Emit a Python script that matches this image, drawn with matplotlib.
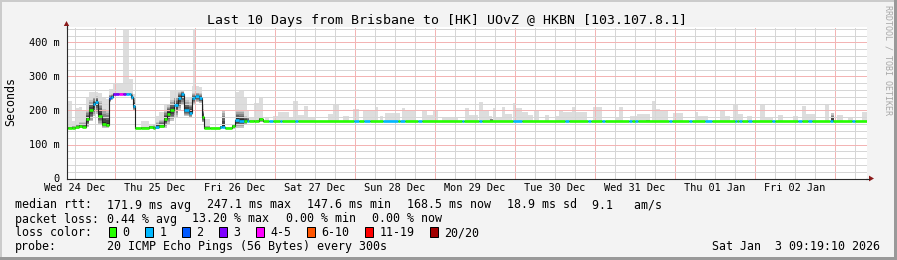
import matplotlib
matplotlib.use("Agg")
import matplotlib.pyplot as plt
from matplotlib.patches import Rectangle, Polygon

# ---------------- data ----------------
title = "Last 10 Days from Brisbane to [HK] UOvZ @ HKBN [103.107.8.1]"
day_labels = ["Wed 24 Dec", "Thu 25 Dec", "Fri 26 Dec", "Sat 27 Dec", "Sun 28 Dec",
              "Mon 29 Dec", "Tue 30 Dec", "Wed 31 Dec", "Thu 01 Jan", "Fri 02 Jan"]
label_hours = [12, 36, 60, 84, 108, 132, 156, 180, 204, 228]   # hours after Wed 24 Dec 00:00
x_start, x_end = 9.6, 249.6
y_ticks = [0, 100, 200, 300, 400]
y_tick_labels = ["0", "100 m", "200 m", "300 m", "400 m"]
y_max = 445

# active period: step segments (start hour, median ms, loss class, smoke core lo/hi, smoke max)
act_h = [9.6, 10.1, 11.1, 12.1, 13.4, 14.1, 15.4, 16.4, 17.4, 18.1, 19.1, 20.1, 21.4, 22.2, 22.9,
         23.4, 25.4, 26.4, 27.4, 28.4, 28.9, 29.4, 30.1, 32.0, 34.4, 35.4, 36.1, 37.4, 38.9, 39.6,
         40.7, 41.9, 42.9, 43.9, 44.9, 46.2, 47.2, 47.4, 48.0, 48.2, 49.2, 50.2, 50.7, 52.7, 55.7,
         56.2, 57.2, 59.2, 60.0, 61.2, 62.7, 63.7, 64.2, 65.7, 67.2]
act_med = [148, 148, 148, 151, 155, 151, 174, 200, 218, 224, 185, 159, 157, 236, 240,
           248, 248, 248, 248, 248, 240, 212, 148, 148, 151, 148, 152, 155, 174, 191,
           200, 215, 236, 248, 200, 193, 236, 236, 236, 242, 236, 180, 148, 148, 151,
           151, 148, 154, 172, 170, 169, 170, 169, 169, 174]
act_loss = [0, 0, 0, 0, 0, 0, 0, 0, 1, 1, 0, 0, 0, 2, 1,
            3, 4, 3, 1, 1, 1, 1, 0, 0, 0, 0, 1, 0, 0, 0,
            0, 1, 1, 1, 1, 1, 1, 1, 1, 1, 1, 0, 0, 0, 1,
            1, 0, 0, 1, 1, 0, 1, 0, 0, 0]
act_lo = [146, 146, 146, 147, 148, 148, 152, 168, 185, 190, 160, 150, 150, 226, 232,
          245, 245, 245, 245, 245, 232, 200, 146, 146, 147, 146, 146, 148, 150, 160,
          170, 180, 200, 215, 185, 180, 220, 220, 220, 225, 222, 165, 146, 146, 147,
          150, 146, 147, 150, 150, 160, 165, 167, 167, 165]
act_hi = [150, 152, 155, 160, 165, 165, 200, 230, 240, 242, 228, 205, 200, 246, 248,
          252, 252, 252, 252, 252, 250, 240, 150, 152, 155, 156, 165, 172, 200, 215,
          230, 240, 255, 256, 230, 225, 250, 250, 250, 252, 250, 205, 155, 150, 155,
          202, 150, 158, 200, 200, 185, 180, 171, 172, 180]
act_max = [150, 229, 170, 207, 210, 202, 239, 254, 254, 254, 250, 240, 235, 264, 264,
           278, 278, 440, 440, 293, 293, 250, 150, 169, 160, 160, 185, 195, 215, 215,
           259, 259, 259, 259, 239, 239, 273, 440, 273, 273, 268, 220, 176, 150, 155,
           202, 150, 160, 254, 259, 240, 200, 180, 222, 241]

# quiet period: flat median with short 1-loss stretches
flat_start = 68.4
flat_med = 169
blue_h0 = [70.2, 73.7, 78.2, 95.7, 98.7, 104.6, 109.7, 115.1, 128.3, 133.4, 143.6, 159.2, 166.1, 170.3,
           178.4, 180.2, 190.4, 196.4, 201.2, 210.2, 211.4, 214.1, 221.3, 229.1, 232.1, 238.7, 245.3]
blue_h1 = [71.4, 74.3, 79.1, 97.2, 100.7, 109.1, 111.2, 116.3, 128.9, 134.3, 146.3, 160.4, 167.0, 171.2,
           179.3, 181.1, 191.3, 197.3, 203.3, 210.8, 212.3, 215.3, 222.2, 230.3, 233.3, 239.6, 246.2]
# quiet period light smoke (start h, end h, max ms)
fs_h0 = [69.2, 71.6, 73.1, 76.4, 77.6, 79.1, 80.9, 82.1, 88.1, 89.6, 92.6, 95.6, 98.6, 102.2, 103.7,
         105.2, 110.3, 111.2, 116.3, 117.8, 119.6, 122.3, 124.7, 129.2, 130.4, 133.4, 134.6, 136.4,
         137.6, 138.2, 140.3, 141.2, 143.6, 144.5, 146.3, 148.1, 149.9, 153.2, 156.2, 157.4, 158.6,
         161.3, 162.2, 167.6, 174.2, 175.4, 178.7, 180.8, 185.3, 186.2, 187.7, 191.6, 198.2, 199.1,
         205.7, 207.2, 209.6, 211.1, 213.8, 217.7, 219.2, 223.1, 227.6, 230.3, 231.5, 237.2, 240.8,
         244.1, 248.3]
fs_h1 = [70.4, 73.1, 76.4, 77.6, 79.1, 80.9, 82.1, 84.2, 89.6, 91.4, 94.4, 97.4, 102.2, 103.1, 104.6,
         109.7, 111.2, 114.2, 117.8, 119.6, 121.1, 124.7, 127.1, 130.4, 133.1, 134.6, 136.4, 137.3,
         138.2, 140.3, 141.2, 143.3, 144.5, 146.3, 148.1, 149.6, 151.4, 154.4, 157.4, 158.6, 161.3,
         162.2, 165.8, 170.3, 175.4, 176.6, 180.8, 184.7, 186.2, 187.7, 190.1, 194.6, 199.1, 202.1,
         207.2, 208.7, 211.1, 212.6, 215.3, 219.2, 221.6, 224.6, 229.1, 231.5, 234.2, 238.4, 242.6,
         245.6, 249.6]
fs_top = [180, 185, 195, 180, 227, 187, 212, 182, 190, 218, 185, 205, 200, 210, 185,
          192, 206, 200, 202, 188, 202, 182, 182, 208, 187, 224, 200, 185,
          208, 182, 210, 190, 222, 208, 195, 187, 200, 187, 185, 202, 195,
          210, 195, 210, 182, 210, 185, 190, 227, 205, 200, 192, 195, 185,
          202, 185, 220, 190, 185, 215, 182, 187, 185, 213, 190, 215, 188,
          182, 195]
fs_lo = 167
# quiet period darker smoke bits
fc_h0 = [136.5, 183.5, 239.0]
fc_h1 = [137.4, 184.7, 239.9]
fc_lo = [168, 168, 168]
fc_hi = [176, 172, 192]

loss_labels = ["0", "1", "2", "3", "4-5", "6-10", "11-19", "20/20"]
loss_colors = ["#26ff00", "#00b8ff", "#0059ff", "#7e00ff", "#ff00ff", "#ff5500", "#ff0000", "#a10000"]

stats_rtt = ["171.9 ms avg", "247.1 ms max", "147.6 ms min", "168.5 ms now", "18.9 ms sd", "9.1   am/s"]
stats_loss = ["0.44 % avg", "13.20 % max", "0.00 % min", "0.00 % now"]
probe_text = "20 ICMP Echo Pings (56 Bytes) every 300s"
stamp_text = "Sat Jan  3 09:19:10 2026"

# ---------------- style / layout ----------------
FONT = "DejaVu Sans Mono"
plt.rcParams["font.family"] = FONT
W, H, DPI = 897, 260, 100
PX_L, PX_R, PX_B, PX_T = 66.5, 866.5, 178.5, 27.2
LIGHT = "#dddddd"
core_colors = ["#c4c4c4", "#a4a4a4", "#848484", "#646464", "#444444", "#2a2a2a"]
GRID_MINOR = "#d6d6d6"
GRID_MAJOR = "#f3b4b4"
AXIS_C = "#2a2a2a"
ARROW_C = "#8b1a1a"
DOT = [(0, (1, 1))]

fig = plt.figure(figsize=(W / DPI, H / DPI), dpi=DPI, facecolor="#f3f3f3")
ax = fig.add_axes([PX_L / W, 1 - PX_B / H, (PX_R - PX_L) / W, (PX_B - PX_T) / H], zorder=2)
ax.set_facecolor("white")
ax.set_xlim(x_start, x_end)
ax.set_ylim(0, y_max)

# build full step series
seg_h = list(act_h)
seg_med = list(act_med)
seg_loss = list(act_loss)
cur = flat_start
for b0, b1 in zip(blue_h0, blue_h1):
    seg_h += [cur, b0]
    seg_med += [flat_med, flat_med]
    seg_loss += [0, 1]
    cur = b1
seg_h.append(cur)
seg_med.append(flat_med)
seg_loss.append(0)
seg_end = seg_h[1:] + [x_end]

act_end = act_h[1:] + [flat_start]
act_w = [e - s for s, e in zip(act_h, act_end)]

# light smoke
ax.bar(act_h, [m - l for m, l in zip(act_max, act_lo)], width=act_w, bottom=act_lo,
       align="edge", color=LIGHT, linewidth=0, antialiased=False, zorder=1)
ax.bar(fs_h0, [t - fs_lo for t in fs_top], width=[b - a for a, b in zip(fs_h0, fs_h1)],
       bottom=fs_lo, align="edge", color=LIGHT, linewidth=0, antialiased=False, zorder=1)

# dark smoke core
def core(h0s, h1s, meds, los, his):
    n = len(core_colors)
    for k, c in enumerate(core_colors):
        bots = [l + (m - l) * k / n for m, l in zip(meds, los)]
        tops = [h - (h - m) * k / n for m, h in zip(meds, his)]
        ax.bar(h0s, [t - b for t, b in zip(tops, bots)], width=[b - a for a, b in zip(h0s, h1s)],
               bottom=bots, align="edge", color=c, linewidth=0, antialiased=False, zorder=1.1 + k * 0.01)

core(act_h, act_end, act_med, act_lo, act_hi)
core(fc_h0, fc_h1, [flat_med] * len(fc_h0), fc_lo, fc_hi)

# grid (1px on / 1px off)
six = [6 * i for i in range(int(x_start // 6) + 1, int(x_end // 6) + 1)]
levels = list(range(20, y_max, 20))
ax.vlines([t for t in six if t % 24], 0, y_max, colors=GRID_MINOR, linestyles=DOT, lw=0.72,
          antialiaseds=False, zorder=2)
ax.vlines([t for t in six if t % 24 == 0], 0, y_max, colors=GRID_MAJOR, linestyles=DOT, lw=0.72,
          antialiaseds=False, zorder=2)
ax.hlines([v for v in levels if v % 100], x_start, x_end, colors=GRID_MINOR, linestyles=DOT, lw=0.72,
          antialiaseds=False, zorder=2)
ax.hlines([v for v in levels if v % 100 == 0], x_start, x_end, colors=GRID_MAJOR, linestyles=DOT, lw=0.72,
          antialiaseds=False, zorder=2)

# median
ax.step(seg_h + [x_end], seg_med + [seg_med[-1]], where="post", color="#202020", lw=0.8, zorder=3)
ax.hlines(seg_med, seg_h, seg_end, colors=[loss_colors[l] for l in seg_loss], lw=1.9, zorder=4)

# axes style
for s in ("top", "right"):
    ax.spines[s].set_visible(False)
for s in ("left", "bottom"):
    ax.spines[s].set_color(AXIS_C)
    ax.spines[s].set_linewidth(0.8)
    ax.spines[s].set_zorder(5)
ax.set_xticks(label_hours, day_labels)
ax.set_yticks(y_ticks, y_tick_labels)
ax.tick_params(axis="x", length=0, pad=3.2, labelsize=7.4)
ax.tick_params(axis="y", length=0, pad=4.8, labelsize=7.4)

# overlay in pixel coordinates
ov = fig.add_axes([0, 0, 1, 1], zorder=5)
ov.set_xlim(0, W)
ov.set_ylim(H, 0)
ov.axis("off")
ov.patch.set_alpha(0)

ov.add_patch(Rectangle((0, 0), W, 2, color="#cbcbcb", lw=0))
ov.add_patch(Rectangle((0, 0), 2, H, color="#cbcbcb", lw=0))
ov.add_patch(Rectangle((0, H - 3), W, 3, color="#999999", lw=0))
ov.add_patch(Rectangle((W - 3, 0), 3, H, color="#999999", lw=0))

ov.plot([PX_L, PX_L], [PX_T + 0.5, 25.5], color=AXIS_C, lw=0.8)
ov.plot([PX_R - 0.5, 869], [PX_B, PX_B], color=AXIS_C, lw=0.8)
ov.add_patch(Polygon([[63.8, 26], [69.2, 26], [66.5, 21]], closed=True, color=ARROW_C, lw=0))
ov.add_patch(Polygon([[869, 175.6], [869, 181.4], [874, 178.5]], closed=True, color=ARROW_C, lw=0))

ov.text(447, 24, title, fontsize=9.5, ha="center", va="baseline")
ov.text(11, 102, "Seconds", fontsize=8.4, rotation=90, ha="center", va="center")
ov.text(888, 5, "RRDTOOL / TOBI OETIKER", fontsize=6, rotation=-90, ha="center", va="top", color="#a8a8a8")

LF = 8.4
base = [208.5, 222.5, 236.3, 250.2]
ov.text(15.3, base[0], "median rtt:", fontsize=LF, va="baseline")
for x, s in zip([106.6, 206.6, 306.6, 406.6, 506.6, 592.0], stats_rtt):
    ov.text(x, base[0], s, fontsize=LF, va="baseline")
ov.text(15.3, base[1], "packet loss:", fontsize=LF, va="baseline")
for x, s in zip([106.6, 192.3, 285.6, 371.6], stats_loss):
    ov.text(x, base[1], s, fontsize=LF, va="baseline")
ov.text(15.3, base[2], "loss color:", fontsize=LF, va="baseline")
for x, s, c in zip([122.6, 159.3, 196.3, 233.3, 270.3, 321.3, 379.3, 444.3], loss_labels, loss_colors):
    ov.add_patch(Rectangle((x - 14, 227), 7.5, 9.5, facecolor=c, edgecolor="black", lw=0.72))
    ov.text(x, base[2], s, fontsize=LF, va="baseline")
ov.text(15.3, base[3], "probe:", fontsize=LF, va="baseline")
ov.text(106.6, base[3], probe_text, fontsize=LF, va="baseline")
ov.text(880, base[3], stamp_text, fontsize=LF, va="baseline", ha="right")

fig.savefig("out.png", dpi=DPI, facecolor=fig.get_facecolor())
